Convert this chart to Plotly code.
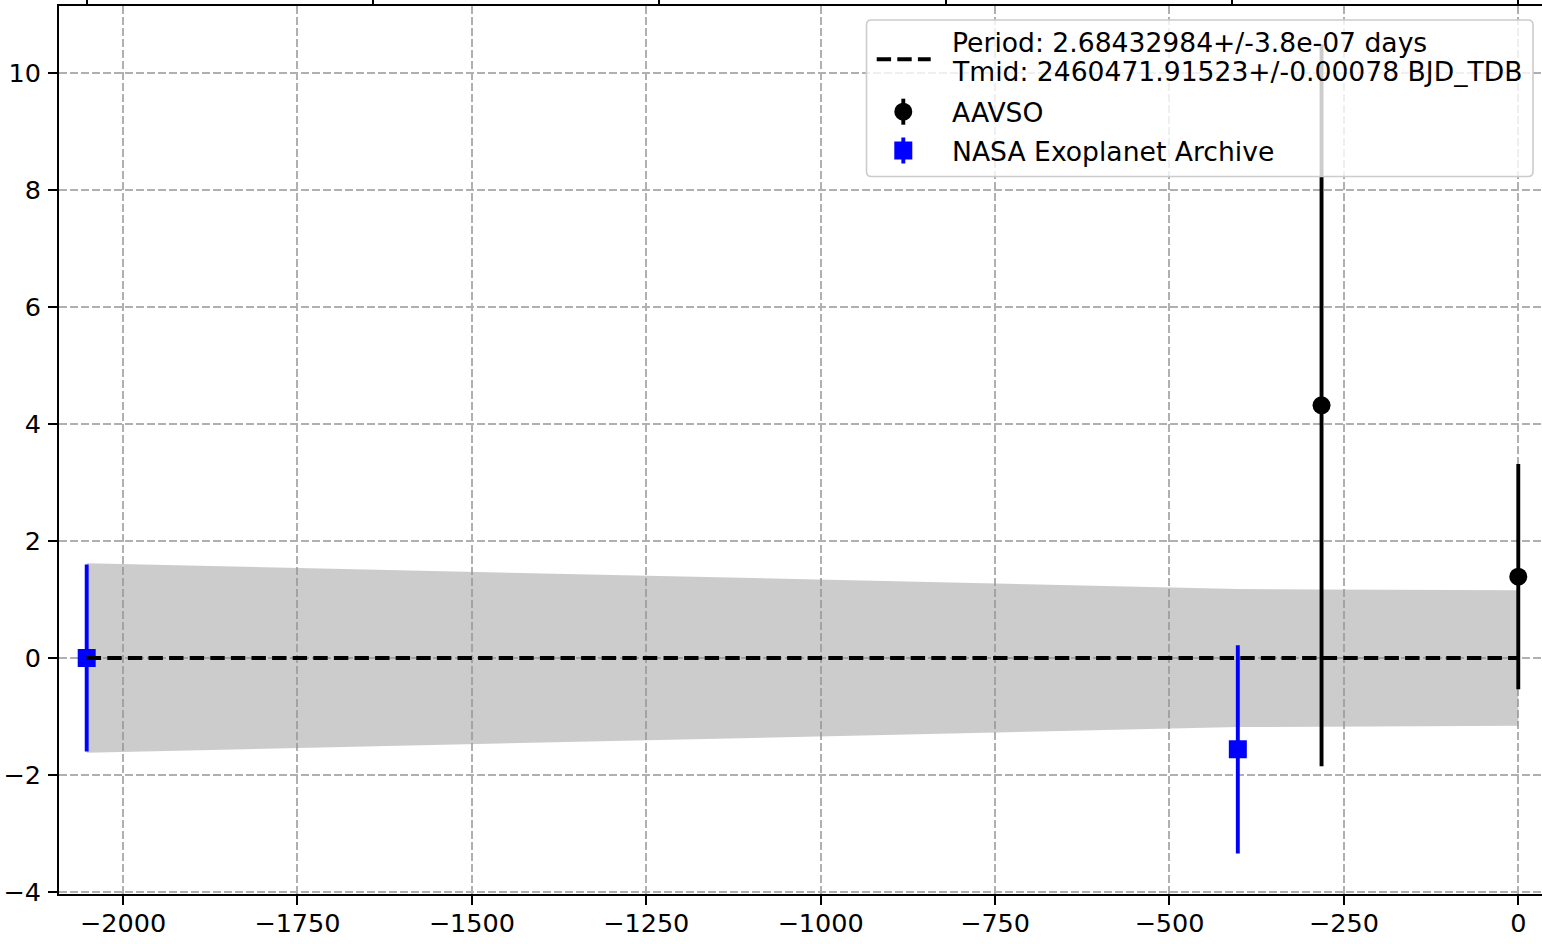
import plotly.graph_objects as go

# O-C transit timing residuals (minutes) versus epoch
nasa_epoch = [-2052, -402]
nasa_oc = [0.0, -1.56]
nasa_err = [1.60, 1.78]

aavso_epoch = [-282, 0]
aavso_oc = [4.32, 1.39]
aavso_err = [6.17, 1.925]

# 1-sigma envelope of the linear ephemeris
band_epoch = [-2052, -402, -282, 0]
band_sigma = [1.62, 1.18, 1.17, 1.16]

fit_epoch = [-2052, 0]
fit_oc = [0.0, 0.0]

x_ticks = [-2000, -1750, -1500, -1250, -1000, -750, -500, -250, 0]
y_ticks = [-4, -2, 0, 2, 4, 6, 8, 10]
top_ticks = [-2052, -1641.6, -1231.2, -820.8, -410.4, 0]

period_label = "Period: 2.68432984+/-3.8e-07 days"
tmid_label = "Tmid: 2460471.91523+/-0.00078 BJD_TDB"
aavso_label = "AAVSO"
nasa_label = "NASA Exoplanet Archive"

FONT = "DejaVu Sans"
W, H = 1542, 944
PL, PR, PT, PB = 59, 1542, 6, 894
X_RANGE = [-2091.7, 34.0]
Y_RANGE = [-4.034, 11.145]


def fmt(v):
    s = f"{v:g}"
    return s.replace("-", "\u2212")


def px_x(px):
    return (px - PL) / (PR - PL)


def px_y(py):
    return (PB - py) / (PB - PT)


fig = go.Figure()

# uncertainty envelope
fig.add_trace(go.Scatter(
    x=band_epoch + band_epoch[::-1],
    y=band_sigma + [-s for s in band_sigma[::-1]],
    fill="toself", mode="lines", line=dict(width=0),
    fillcolor="rgba(150,150,150,0.486)", hoverinfo="skip",
))

fig.add_trace(go.Scatter(
    x=nasa_epoch, y=nasa_oc, mode="markers",
    marker=dict(symbol="square", size=18, color="#0000ff", line=dict(width=0)),
    error_y=dict(type="data", array=nasa_err, visible=True,
                 color="#0000ff", thickness=3.9, width=0),
    name=nasa_label,
))

fig.add_trace(go.Scatter(
    x=aavso_epoch, y=aavso_oc, mode="markers",
    marker=dict(symbol="circle", size=18, color="black", line=dict(width=0)),
    error_y=dict(type="data", array=aavso_err, visible=True,
                 color="black", thickness=3.9, width=0),
    name=aavso_label,
))

fig.add_trace(go.Scatter(
    x=fit_epoch, y=fit_oc, mode="lines",
    line=dict(color="black", width=3.9, dash="14.4px,6.2px"),
    name="ephemeris",
))

# carrier for the top axis ticks
fig.add_trace(go.Scatter(
    x=top_ticks, y=[0] * len(top_ticks), xaxis="x2", mode="markers",
    marker=dict(opacity=0), hoverinfo="skip",
))

axis_common = dict(
    ticks="outside", ticklen=9, tickwidth=2, tickcolor="black",
    showline=True, linecolor="black", linewidth=2,
    showgrid=True, gridcolor="#b0b0b0", gridwidth=2, griddash="7.7px,3.3px",
    zeroline=False, automargin=False,
    tickfont=dict(family=FONT, size=25.5, color="black"),
)

fig.update_layout(
    width=W, height=H,
    margin=dict(l=PL, r=W - PR, t=PT, b=H - PB, pad=0, autoexpand=False),
    plot_bgcolor="white", paper_bgcolor="white",
    showlegend=False,
    xaxis=dict(range=X_RANGE, tickmode="array", tickvals=x_ticks,
               ticktext=[fmt(v) for v in x_ticks], mirror=True,
               ticklabelstandoff=-4, **axis_common),
    yaxis=dict(range=Y_RANGE, tickmode="array", tickvals=y_ticks,
               ticktext=[fmt(v) for v in y_ticks], mirror=False,
               ticklabelstandoff=2, **axis_common),
    xaxis2=dict(overlaying="x", side="top", range=X_RANGE, tickmode="array",
                tickvals=top_ticks, ticks="outside", ticklen=9, tickwidth=2,
                tickcolor="black", showticklabels=False, showgrid=False,
                showline=False, zeroline=False, automargin=False),
)

# legend frame and glyphs
bx0, bx1, by0, by1 = px_x(866.5), px_x(1533), px_y(20), px_y(176.5)
rx, ry = 5 / (PR - PL), 5 / (PB - PT)
frame = (f"M {bx0 + rx},{by0} L {bx1 - rx},{by0} Q {bx1},{by0} {bx1},{by0 - ry} "
         f"L {bx1},{by1 + ry} Q {bx1},{by1} {bx1 - rx},{by1} "
         f"L {bx0 + rx},{by1} Q {bx0},{by1} {bx0},{by1 + ry} "
         f"L {bx0},{by0 - ry} Q {bx0},{by0} {bx0 + rx},{by0} Z")
shapes = [
    dict(type="path", path=frame, xref="paper", yref="paper", layer="above",
         fillcolor="rgba(255,255,255,0.8)", line=dict(color="#cccccc", width=1.6)),
    dict(type="line", xref="paper", yref="paper", layer="above",
         x0=px_x(876.7), x1=px_x(930.7), y0=px_y(59.3), y1=px_y(59.3),
         line=dict(color="black", width=3.9, dash="14.4px,6.2px")),
]
for cy, col, sym in [(111.7, "black", "circle"), (150.5, "#0000ff", "rect")]:
    shapes.append(dict(type="line", xref="paper", yref="paper", layer="above",
                       xsizemode="pixel", ysizemode="pixel",
                       xanchor=px_x(903.3), yanchor=px_y(cy),
                       x0=0, x1=0, y0=-13, y1=13,
                       line=dict(color=col, width=3.9)))
    shapes.append(dict(type=sym, xref="paper", yref="paper", layer="above",
                       xsizemode="pixel", ysizemode="pixel",
                       xanchor=px_x(903.3), yanchor=px_y(cy),
                       x0=-9, x1=9, y0=-9, y1=9,
                       fillcolor=col, line=dict(width=0)))
fig.update_layout(shapes=shapes)

for txt, cy in [(period_label, 42), (tmid_label, 71.2),
                (aavso_label, 112.5), (nasa_label, 151)]:
    fig.add_annotation(text=txt, xref="paper", yref="paper",
                       x=px_x(951), y=px_y(cy), xanchor="left", yanchor="middle",
                       showarrow=False, borderpad=0,
                       font=dict(family=FONT, size=26.6, color="black"))

fig.write_html("out.html")
